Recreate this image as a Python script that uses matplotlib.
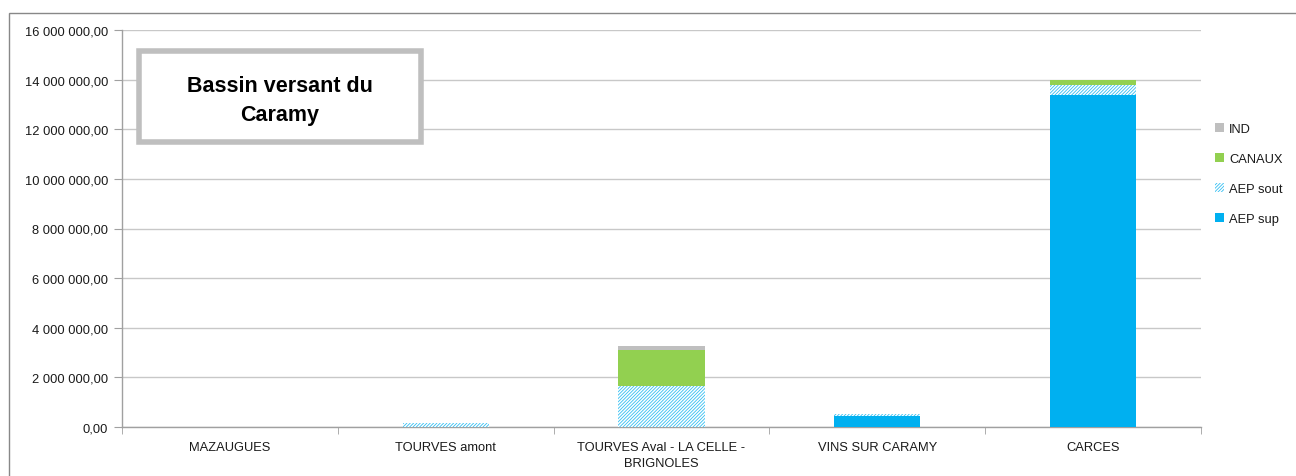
import matplotlib
matplotlib.use("Agg")
import matplotlib.pyplot as plt
import numpy as np
from matplotlib.patches import Rectangle

categories = ["MAZAUGUES", "TOURVES amont", "TOURVES Aval - LA CELLE -\nBRIGNOLES",
              "VINS SUR CARAMY", "CARCES"]
aep_sup = [0, 0, 0, 430000, 13400000]
aep_sout = [0, 180000, 1660000, 80000, 390000]
canaux = [0, 0, 1440000, 0, 210000]
ind = [0, 0, 180000, 0, 0]
yticks = [0, 2e6, 4e6, 6e6, 8e6, 10e6, 12e6, 14e6, 16e6]
ytick_labels = ["0,00", "2 000 000,00", "4 000 000,00", "6 000 000,00", "8 000 000,00",
                "10 000 000,00", "12 000 000,00", "14 000 000,00", "16 000 000,00"]

plt.rcParams['font.family'] = ['Liberation Sans', 'DejaVu Sans']
plt.rcParams['hatch.linewidth'] = 0.6

fs = 9.3
fig = plt.figure(figsize=(12.96, 4.77), dpi=100)
fig.patches.append(Rectangle((9/1296, -0.1), 1.2, (477-14)/477 + 0.1, transform=fig.transFigure,
                             fill=False, edgecolor='#888888', linewidth=1.0))
ax = fig.add_axes([122/1296, 1-428/477, (1201-122)/1296, (428-31)/477])

x = np.arange(len(categories))
w = 0.4
b1 = np.array(aep_sup, dtype=float)
b2 = b1 + np.array(aep_sout)
b3 = b2 + np.array(canaux)
ax.bar(x, aep_sup, w, color='#00b0f0', label='AEP sup', zorder=3)
ax.bar(x, aep_sout, w, bottom=b1, color='white', edgecolor='#33bff2', hatch='//////////',
       linewidth=0, label='AEP sout', zorder=3)
ax.bar(x, canaux, w, bottom=b2, color='#92d050', label='CANAUX', zorder=3)
ax.bar(x, ind, w, bottom=b3, color='#bfbfbf', label='IND', zorder=3)

ax.set_xlim(-0.5, len(categories) - 0.5)
ax.set_ylim(0, 16e6)
ax.set_yticks(yticks)
ax.set_yticklabels(ytick_labels, fontsize=fs, color='#1a1a1a')
ax.yaxis.grid(True, color='#c8c8c8', linewidth=1, zorder=0)
ax.set_axisbelow(True)

ax.set_xticks(x)
ax.set_xticklabels(categories, fontsize=fs, color='#1a1a1a', linespacing=1.5)
ax.tick_params(axis='x', length=0, pad=10)
ax.set_xticks(np.arange(-0.5, len(categories)), minor=True)
ax.tick_params(axis='x', which='minor', length=5, color='#a0a0a0', direction='out')
ax.tick_params(axis='y', length=6, color='#a0a0a0', pad=4)

for s in ['top', 'right']:
    ax.spines[s].set_visible(False)
for s in ['left', 'bottom']:
    ax.spines[s].set_color('#a0a0a0')
    ax.spines[s].set_linewidth(1)

handles, labels = ax.get_legend_handles_labels()
leg = ax.legend(handles[::-1], labels[::-1], loc='center left', bbox_to_anchor=(1.008, 0.637),
                frameon=False, fontsize=fs, handlelength=0.7, handleheight=0.7,
                labelspacing=1.4, handletextpad=0.4, borderaxespad=0)
for t in leg.get_texts():
    t.set_color('#1a1a1a')

# title box
fig.patches.append(Rectangle((139/1296, 1-143/477), (421-139)/1296, (143-52)/477,
                             transform=fig.transFigure, facecolor='white', edgecolor='#bfbfbf',
                             linewidth=4, zorder=5))
fig.text(280/1296, 1-101/477, "Bassin versant du\nCaramy", ha='center', va='center',
         fontsize=15.5, fontweight='bold', linespacing=1.55, zorder=6)

fig.savefig("out.png", dpi=100)
